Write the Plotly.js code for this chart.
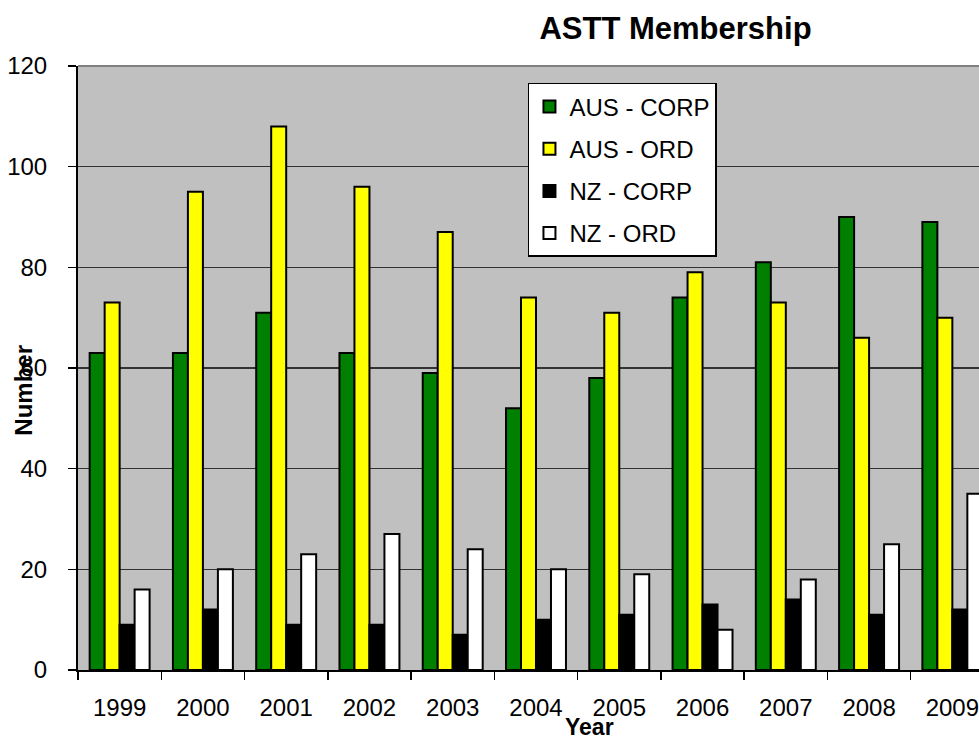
<!DOCTYPE html>
<html>
<head>
<meta charset="utf-8">
<script src="https://cdn.plot.ly/plotly-3.0.1.min.js"></script>
<style>html,body{margin:0;padding:0;background:#fff;}#chart{width:979px;height:739px;}</style>
</head>
<body>
<div id="chart"></div>
<script>
const years = ['1999','2000','2001','2002','2003','2004','2005','2006','2007','2008','2009'];
const ausCorp = [63, 63, 71, 63, 59, 52, 58, 74, 81, 90, 89];
const ausOrd  = [73, 95, 108, 96, 87, 74, 71, 79, 73, 66, 70];
const nzCorp  = [9, 12, 9, 9, 7, 10, 11, 13, 14, 11, 12];
const nzOrd   = [16, 20, 23, 27, 24, 20, 19, 8, 18, 25, 35];
const seriesNames = ['AUS - CORP', 'AUS - ORD', 'NZ - CORP', 'NZ - ORD'];
const seriesColors = ['#008000', '#FFFF00', '#000000', '#FFFFFF'];
const seriesValues = [ausCorp, ausOrd, nzCorp, nzOrd];

const FONT = 'Arial, "Liberation Sans", sans-serif';

const traces = seriesValues.map((vals, i) => ({
  type: 'bar',
  x: years,
  y: vals,
  name: seriesNames[i],
  legendgroup: 'g' + i,
  marker: {color: seriesColors[i], line: {color: '#000000', width: 2}},
  hoverinfo: 'x+y+name'
}));

const layout = {
  width: 979, height: 739,
  margin: {l: 78, r: 0, t: 66, b: 69, pad: 0},
  paper_bgcolor: '#FFFFFF',
  plot_bgcolor: '#C0C0C0',
  font: {family: FONT, size: 24, color: '#000000'},
  barmode: 'group',
  bargap: 0.28,
  bargroupgap: 0,
  showlegend: true,
  title: {
    text: '<b>ASTT Membership</b>',
    font: {family: FONT, size: 31, color: '#000000'},
    xref: 'container', x: 0.69, xanchor: 'center',
    yref: 'container', y: 0.962, yanchor: 'middle'
  },
  xaxis: {
    type: 'category',
    range: [-0.5, 10.32],
    showgrid: false,
    showline: true, linecolor: '#000000', linewidth: 2,
    ticks: 'outside', tickson: 'boundaries', ticklen: 8, tickwidth: 1.5, tickcolor: '#000000',
    ticklabelstandoff: 15,
    tickfont: {family: FONT, size: 24, color: '#000000'},
    zeroline: false
  },
  yaxis: {
    range: [0, 120],
    tickvals: [0, 20, 40, 60, 80, 100, 120],
    ticktext: ['0', '20', '40', '60', '80', '100', '120'],
    showgrid: true, gridcolor: '#333333', gridwidth: 1.2,
    showline: true, linecolor: '#000000', linewidth: 2,
    ticks: 'outside', ticklen: 8, tickwidth: 1.5, tickcolor: '#000000',
    ticklabelstandoff: 16,
    tickfont: {family: FONT, size: 24, color: '#000000'},
    zeroline: false
  },
  legend: {
    x: 0.4994, y: 0.972, xanchor: 'left', yanchor: 'top',
    bgcolor: '#FFFFFF', bordercolor: '#000000', borderwidth: 1.5,
    font: {family: FONT, size: 24, color: '#000000'},
    traceorder: 'grouped', tracegroupgap: 8,
    itemwidth: 30
  },
  shapes: [
    {type: 'line', xref: 'paper', yref: 'paper', x0: 0, x1: 1, y0: 1, y1: 1,
     line: {color: '#808080', width: 2}}
  ],
  annotations: [
    {text: '<b>Number</b>', xref: 'paper', yref: 'paper', x: -0.06, y: 0.464,
     textangle: -90, showarrow: false, xanchor: 'center', yanchor: 'middle',
     font: {family: FONT, size: 24, color: '#000000'}},
    {text: '<b>Year</b>', xref: 'paper', yref: 'paper', x: 0.568, y: -0.1175,
     showarrow: false, xanchor: 'center', yanchor: 'bottom', borderpad: 0,
     font: {family: FONT, size: 23, color: '#000000'}}
  ]
};

Plotly.newPlot('chart', traces, layout, {displayModeBar: false, staticPlot: true});
</script>
</body>
</html>
